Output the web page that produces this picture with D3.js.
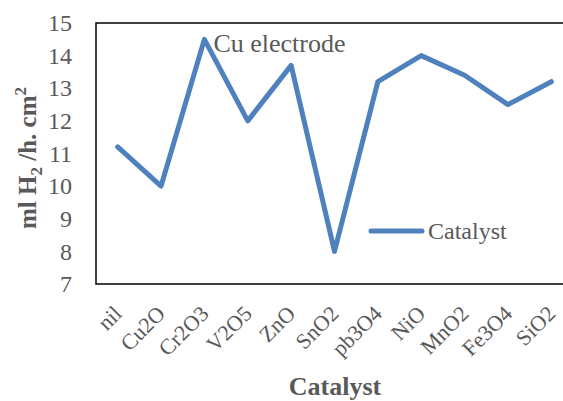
<!DOCTYPE html>
<html>
<head>
<meta charset="utf-8">
<script src="https://cdn.jsdelivr.net/npm/d3@7"></script>
<style>
  html, body { margin: 0; padding: 0; background: #fff; }
</style>
</head>
<body>
<svg id="chart" width="563" height="401"></svg>
<script>
// Hydrogen evolution rate on a Cu electrode for each catalyst
const catalysts = ["nil", "Cu2O", "Cr2O3", "V2O5", "ZnO", "SnO2", "pb3O4", "NiO", "MnO2", "Fe3O4", "SiO2"];
const rates = [11.2, 10, 14.5, 12, 13.7, 8, 13.2, 14, 13.4, 12.5, 13.2];
const yTicks = [7, 8, 9, 10, 11, 12, 13, 14, 15];
const seriesName = "Catalyst";
const annotation = "Cu electrode";

const FONT = "Liberation Serif";
const svg = d3.select("#chart");
const plot = { left: 96, right: 573, top: 23, bottom: 284 };
const lineColor = "#4f81bd";
const textColor = "#595959";

const x = d3.scalePoint()
  .domain(catalysts)
  .range([plot.left, plot.right])
  .padding(0.5);

const y = d3.scaleLinear()
  .domain([7, 15])
  .range([plot.bottom, plot.top]);

// plot area frame
svg.append("rect")
  .attr("x", plot.left)
  .attr("y", plot.top)
  .attr("width", plot.right - plot.left)
  .attr("height", plot.bottom - plot.top)
  .attr("fill", "none")
  .attr("stroke", "#000")
  .attr("stroke-width", 1.5);

// y axis labels
const yAxis = d3.axisLeft(y).tickValues(yTicks).tickSize(0).tickPadding(0);
const yg = svg.append("g")
  .attr("transform", `translate(${plot.left - 24},0)`)
  .call(yAxis)
  .attr("font-family", FONT)
  .attr("font-size", 24);
yg.select(".domain").remove();
yg.selectAll("text").attr("fill", textColor);

// x axis labels, rotated
const xAxis = d3.axisBottom(x).tickSize(0).tickPadding(0);
const xg = svg.append("g")
  .attr("transform", `translate(0,${plot.bottom})`)
  .call(xAxis)
  .attr("font-family", FONT)
  .attr("font-size", 22);
xg.select(".domain").remove();
xg.selectAll("text")
  .attr("fill", textColor)
  .attr("text-anchor", "end")
  .attr("dy", null)
  .attr("y", 0)
  .attr("transform", "translate(5,31) rotate(-45)");

// data line
const line = d3.line()
  .x((d, i) => x(catalysts[i]))
  .y(d => y(d));

svg.append("path")
  .datum(rates)
  .attr("d", line)
  .attr("fill", "none")
  .attr("stroke", lineColor)
  .attr("stroke-width", 5)
  .attr("stroke-linecap", "round")
  .attr("stroke-linejoin", "round");

// annotation next to the peak
svg.append("text")
  .attr("x", x("Cr2O3") + 9)
  .attr("y", 52)
  .attr("fill", textColor)
  .attr("font-family", FONT)
  .attr("font-size", 26)
  .text(annotation);

// legend
const lg = svg.append("g");
lg.append("line")
  .attr("x1", 371).attr("x2", 422)
  .attr("y1", 231).attr("y2", 231)
  .attr("stroke", lineColor)
  .attr("stroke-width", 5)
  .attr("stroke-linecap", "round");
lg.append("text")
  .attr("x", 428)
  .attr("y", 239)
  .attr("fill", textColor)
  .attr("font-family", FONT)
  .attr("font-size", 24)
  .text(seriesName);

// axis titles
svg.append("text")
  .attr("x", 335)
  .attr("y", 395)
  .attr("text-anchor", "middle")
  .attr("fill", textColor)
  .attr("font-family", FONT)
  .attr("font-size", 26)
  .attr("font-weight", "bold")
  .text("Catalyst");

const yt = svg.append("text")
  .attr("transform", "translate(36,158) rotate(-90)")
  .attr("text-anchor", "middle")
  .attr("fill", textColor)
  .attr("font-family", FONT)
  .attr("font-size", 25)
  .attr("font-weight", "bold");
yt.append("tspan").text("ml H");
yt.append("tspan").attr("dy", 6).attr("font-size", 17).text("2");
yt.append("tspan").attr("dy", -6).text(" /h. cm");
yt.append("tspan").attr("dy", -10).attr("font-size", 17).text("2");
</script>
</body>
</html>
